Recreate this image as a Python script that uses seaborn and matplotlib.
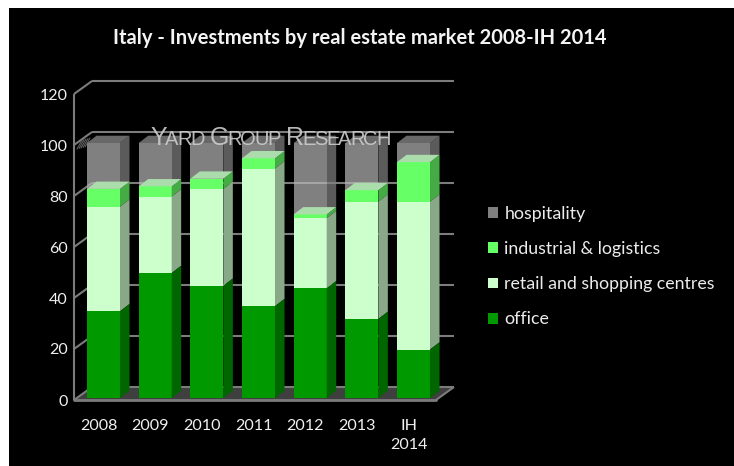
import matplotlib
matplotlib.use("Agg")
import matplotlib.pyplot as plt
from matplotlib.patches import Rectangle, Polygon
from matplotlib.transforms import Affine2D, ScaledTranslation
import numpy as np
import pandas as pd
import seaborn as sns

years = ["2008", "2009", "2010", "2011", "2012", "2013", "IH\n2014"]
office = [34, 49, 44, 36, 43, 31, 19]
retail = [41, 30, 38, 54, 27.5, 46, 58]
industrial = [7, 4, 4, 4, 1.5, 4.5, 15.5]
hospitality = [18, 17, 14, 6, 28, 18.5, 7.5]
yticks = [0, 20, 40, 60, 80, 100, 120]
legend_labels = ["hospitality", "industrial & logistics", "retail and shopping centres", "office"]

W, H = 734, 466
FONT = ["Lato", "DejaVu Sans"]

sns.set_theme(style="dark", rc={"axes.grid": False})
plt.rcParams["font.family"] = FONT

fig = plt.figure(figsize=(W / 100, H / 100), dpi=100, facecolor="white")
fig.patches.append(Rectangle((9 / W, 0), 1 - 9 / W, 1 - 8 / H, transform=fig.transFigure,
                             facecolor="black", edgecolor="none", zorder=-10))

# The front plane spans x 74..436 px, value 0..120 over y 400..94 px.
ax = fig.add_axes([74 / W, 1 - 400 / H, 362 / W, 306 / H], facecolor="none")
step_px = 51.67
xlim = ((74 - 103.5) / step_px, (436 - 103.5) / step_px)
px_per_val = 306 / 120
wall_dx, wall_dy = 18 / step_px, 13 / px_per_val
bar_dx, bar_dy = 9.5 / step_px, 7.3 / px_per_val
bar_w = 33 / step_px

frame = dict(color="#7c7c7c", lw=1.5, clip_on=False, solid_capstyle="butt")

# Floor of the chart box, then its back wall rules
ax.add_patch(Polygon([(xlim[0], 0), (xlim[1], 0), (xlim[1] + wall_dx, wall_dy), (xlim[0] + wall_dx, wall_dy)],
                     facecolor="#3f3f3f", edgecolor="none", clip_on=False, zorder=0.5))
for v in yticks:
    ax.plot([xlim[0] + wall_dx, xlim[1] + wall_dx], [v + wall_dy] * 2, zorder=1, **frame)
    ax.plot([xlim[0], xlim[0] + wall_dx], [v, v + wall_dy], zorder=1, **frame)
ax.plot([xlim[0], xlim[0]], [0, 120], zorder=1, **frame)
ax.plot([xlim[0], xlim[1]], [0, 0], zorder=1, color="#7c7c7c", lw=2, clip_on=False)
ax.plot([xlim[1], xlim[1] + wall_dx], [0, wall_dy], zorder=1, **frame)

# Cumulative totals: each layer is painted over the one above it in the stack
c1 = np.array(office, dtype=float)
c2 = c1 + retail
c3 = c2 + industrial
c4 = c3 + hospitality
layers = [
    (legend_labels[0], c4, c3, "#b7b7b7", "#838383", "#959595", 0.7, 2),
    (legend_labels[1], c3, c2, "#66ff66", "#45ab45", "#abdcab", 1, 3),
    (legend_labels[2], c2, c1, "#ccffcc", "#88a888", None, 1, 4),
    (legend_labels[3], c1, np.zeros(7), "#009900", "#006600", None, 1, 5),
]

# Bars stand slightly behind the front rule
lifted = ax.transData + Affine2D().translate(0, 2)
for label, upper, lower, face, side, top, alpha, z in layers:
    df = pd.DataFrame({"year": years, "value": upper})
    n0 = len(ax.patches)
    sns.barplot(data=df, x="year", y="value", color=face, saturation=1, width=bar_w,
                alpha=alpha, label=label, ax=ax, zorder=z, linewidth=0, errorbar=None)
    for p in ax.patches[n0:]:
        p.set_transform(lifted)
    for i, (u, l) in enumerate(zip(upper, lower)):
        x1 = i + bar_w / 2
        x0 = i - bar_w / 2
        ax.add_patch(Polygon([(x1, l), (x1, u), (x1 + bar_dx, u + bar_dy), (x1 + bar_dx, l + bar_dy)],
                             facecolor=side, alpha=alpha, edgecolor="none", zorder=z,
                             transform=lifted, clip_on=False))
        if top is not None:
            ax.add_patch(Polygon([(x0, u), (x1, u), (x1 + bar_dx, u + bar_dy), (x0 + bar_dx, u + bar_dy)],
                                 facecolor=top, alpha=alpha, edgecolor="none", zorder=z,
                                 transform=lifted, clip_on=False))

ax.set_xlim(*xlim)
ax.set_ylim(0, 120)
ax.set_xlabel("")
ax.set_ylabel("")
for s in ax.spines.values():
    s.set_visible(False)
ax.set_yticks(yticks)
ax.set_xticks(range(7))
ax.set_xticklabels(years)
ax.tick_params(axis="y", length=0, pad=4.5, labelsize=11.5, labelcolor="#f0f0f0")
ax.tick_params(axis="x", length=0, pad=14, labelsize=11.6, labelcolor="#f0f0f0")
shift = ScaledTranslation(-5 / 100, 0, fig.dpi_scale_trans)
for t in ax.get_xticklabels():
    t.set_transform(t.get_transform() + shift)
    t.set_linespacing(1.45)

fig.text(360 / W, 1 - 38.5 / H, "Italy - Investments by real estate market 2008-IH 2014", color="#f4f4f4",
         ha="center", va="center", fontsize=14.5, fontweight="bold")

# Small mark at the top of the left wall
for k in range(5):
    ax.plot([xlim[0] + (k * 2 + 3) / step_px, xlim[0] + (k * 2 + 8) / step_px],
            [100 + (k * 0.5 - 4) / px_per_val, 100 + (k * 0.5 + 5) / px_per_val],
            color="#6a6a6a", lw=0.7, clip_on=False, zorder=6)

# Small-caps watermark set letter by letter with tight tracking
fig.canvas.draw()
renderer = fig.canvas.get_renderer()
x_px = 150.0
for word, size in [("Y", 18), ("ARD", 14.5), (" ", 0), ("G", 18), ("ROUP", 14.5), (" ", 0), ("R", 18), ("ESEARCH", 14.5)]:
    if not word.strip():
        x_px += 6
        continue
    for ch in word:
        t = fig.text(x_px / W, 1 - 145 / H, ch, fontsize=size, color="#cccccc", alpha=0.9,
                     family=["Liberation Sans", "DejaVu Sans"], ha="left", va="baseline", zorder=20)
        x_px = t.get_window_extent(renderer).x1 - 1.4

ax.legend(loc="upper left", bbox_to_anchor=(488 / W, 1 - 206 / H), bbox_transform=fig.transFigure,
          frameon=False, fontsize=12.75, labelcolor="#ececec", handlelength=0.57, handleheight=0.57,
          handletextpad=0.35, labelspacing=1.08, borderpad=0, borderaxespad=0)

fig.savefig("out.png", dpi=100, facecolor=fig.get_facecolor())
